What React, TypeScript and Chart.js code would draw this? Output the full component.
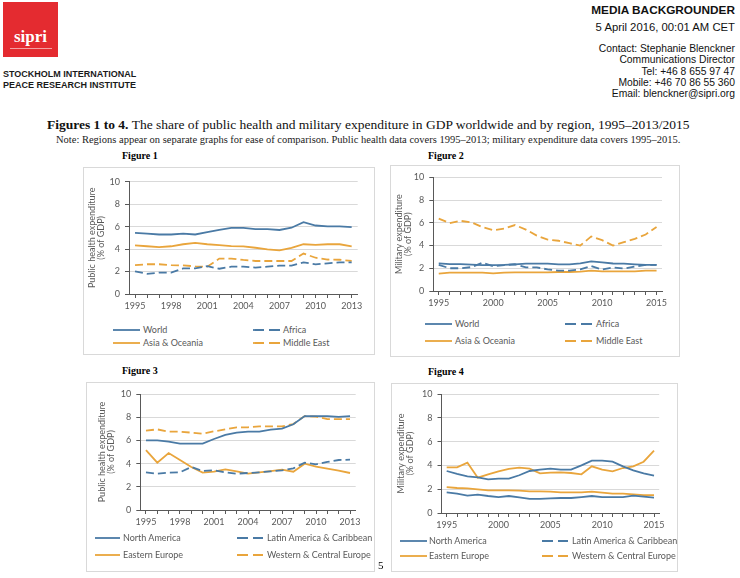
import React, { useEffect, useRef } from 'react';
import { Chart, registerables } from 'chart.js';
Chart.register(...registerables);

// ---------- data ----------
const healthYears = ['1995','1996','1997','1998','1999','2000','2001','2002','2003','2004','2005','2006','2007','2008','2009','2010','2011','2012','2013'];
const militaryYears = ['1995','1996','1997','1998','1999','2000','2001','2002','2003','2004','2005','2006','2007','2008','2009','2010','2011','2012','2013','2014','2015'];
const yTicks = [0, 2, 4, 6, 8, 10];

// Figure 1: public health expenditure, % of GDP
const healthWorld = [5.45,5.38,5.3,5.3,5.38,5.3,5.5,5.7,5.88,5.88,5.78,5.78,5.7,5.9,6.4,6.1,6.03,6.03,5.95];
const healthAfrica = [2.02,1.8,1.9,1.9,2.28,2.28,2.48,2.25,2.43,2.43,2.35,2.43,2.52,2.52,2.82,2.64,2.73,2.82,2.82];
const healthAsiaOceania = [4.33,4.25,4.17,4.25,4.43,4.55,4.43,4.35,4.27,4.24,4.12,3.98,3.88,4.1,4.43,4.38,4.43,4.43,4.24];
const healthMiddleEast = [2.57,2.65,2.65,2.57,2.55,2.46,2.43,3.15,3.15,3.03,2.94,2.94,2.94,2.94,3.6,3.23,3.07,3.05,2.95];

// Figure 2: military expenditure, % of GDP
const milWorld = [2.43,2.37,2.37,2.32,2.27,2.27,2.29,2.35,2.4,2.4,2.4,2.35,2.35,2.43,2.6,2.52,2.42,2.4,2.35,2.29,2.29];
const milAfrica = [2.3,2.0,2.0,2.1,2.48,2.18,2.28,2.35,2.08,2.08,1.9,1.8,1.8,1.9,2.2,1.88,2.08,1.97,2.15,2.29,2.29];
const milAsiaOceania = [1.53,1.61,1.61,1.61,1.61,1.55,1.61,1.64,1.64,1.64,1.64,1.67,1.67,1.7,1.79,1.72,1.72,1.72,1.72,1.79,1.79];
const milMiddleEast = [6.37,5.97,6.17,6.04,5.62,5.35,5.48,5.8,5.4,4.87,4.52,4.42,4.2,4.0,4.8,4.47,4.0,4.3,4.58,4.97,5.62];

// Figure 3: public health expenditure by region
const healthNorthAmerica = [6.0,6.0,5.89,5.72,5.72,5.72,6.12,6.47,6.67,6.75,6.75,6.93,7.01,7.39,8.1,8.1,8.1,8.02,8.1];
const healthLatinAmerica = [3.25,3.13,3.22,3.25,3.71,3.36,3.42,3.25,3.13,3.19,3.25,3.33,3.42,3.59,4.08,3.94,4.14,4.31,4.34];
const healthEasternEurope = [5.17,4.08,4.91,4.31,3.71,3.22,3.3,3.5,3.33,3.13,3.25,3.36,3.48,3.3,3.99,3.74,3.56,3.39,3.19];
const healthWesternEurope = [6.84,6.95,6.75,6.75,6.67,6.58,6.78,6.95,7.13,7.13,7.21,7.21,7.21,7.41,8.1,8.05,7.84,7.84,7.84];

// Figure 4: military expenditure by region
const milNorthAmerica = [3.53,3.28,3.08,3.0,2.83,2.89,2.89,3.17,3.53,3.64,3.73,3.64,3.64,4.0,4.4,4.4,4.31,3.92,3.59,3.33,3.14];
const milLatinAmerica = [1.74,1.62,1.46,1.54,1.43,1.34,1.43,1.32,1.18,1.18,1.23,1.26,1.26,1.34,1.43,1.34,1.34,1.34,1.46,1.37,1.29];
const milEasternEurope = [3.84,3.84,4.23,2.97,3.25,3.5,3.7,3.81,3.73,3.33,3.39,3.42,3.36,3.25,3.92,3.64,3.5,3.78,3.92,4.31,5.24];
const milWesternEurope = [2.18,2.1,2.07,1.99,1.9,1.9,1.9,1.88,1.82,1.82,1.79,1.74,1.74,1.74,1.79,1.71,1.62,1.62,1.57,1.51,1.51];

// ---------- style ----------
const BLUE = '#4a7aa5';
const ORANGE = '#e9a53c';
const AXIS = '#595959';
const GRID = '#d9d9d9';
const TXT = '#595959';
const SANS = 'Lato, "Liberation Sans", sans-serif';
const SERIF = '"Liberation Serif", "DejaVu Serif", serif';

type Series = { label: string; data: number[]; color: string; dashed: boolean; legendDashed: boolean };
type Rect = { l: number; t: number; r: number; b: number };
type LegendLayout = { rows: number[]; cols: { x1: number; x2: number; tx: number }[] };

type FigProps = {
  box: Rect;
  plot: Rect;
  labels: string[];
  labelStep: number;
  yTitle: string[];
  titleOffset: number;
  series: Series[];
  legend: LegendLayout;
};

function Figure({ box, plot, labels, labelStep, yTitle, titleOffset, series, legend }: FigProps) {
  const ref = useRef<HTMLCanvasElement>(null);
  const W = box.r - box.l;
  const xAxisH = 26;
  const H = Math.round(plot.b - box.t + xAxisH);
  useEffect(() => {
    const chart = new Chart(ref.current as HTMLCanvasElement, {
      type: 'line',
      data: {
        labels,
        datasets: series.map((s) => ({
          label: s.label,
          data: s.data,
          borderColor: s.color,
          backgroundColor: s.color,
          borderWidth: 1.8,
          borderDash: s.dashed ? [8, 4] : [],
          pointRadius: 0,
          pointHoverRadius: 0,
          tension: 0,
          fill: false,
        })),
      },
      options: {
        animation: false,
        responsive: false,
        maintainAspectRatio: false,
        events: [],
        layout: { padding: { top: plot.t - box.t, right: box.r - plot.r, left: 0, bottom: 0 } },
        plugins: { legend: { display: false }, tooltip: { enabled: false }, title: { display: false } },
        scales: {
          x: {
            type: 'category',
            offset: true,
            afterFit: (s: any) => { s.height = xAxisH; },
            grid: { drawOnChartArea: false, tickLength: 4, color: AXIS, offset: false },
            border: { color: AXIS, width: 1 },
            ticks: {
              autoSkip: false,
              maxRotation: 0,
              minRotation: 0,
              padding: 3,
              color: TXT,
              font: { family: SANS, size: 9 },
              callback: (_v: any, i: number) => (i % labelStep === 0 ? labels[i] : ''),
            },
          },
          y: {
            min: 0,
            max: 10,
            afterFit: (s: any) => { s.width = plot.l - box.l; },
            afterBuildTicks: (s: any) => { s.ticks = yTicks.map((v) => ({ value: v })); },
            ticks: { padding: 5, color: TXT, font: { family: SANS, size: 9 } },
            grid: {
              color: (c: any) => (c.tick && c.tick.value === 0 ? AXIS : GRID),
              tickColor: AXIS,
              tickLength: 4,
            },
            border: { color: AXIS, width: 1 },
            title: {
              display: true,
              text: yTitle,
              color: TXT,
              font: { family: SANS, size: 9, lineHeight: 1.0 },
              padding: { top: titleOffset - 4.5, bottom: 0 },
            },
          },
        },
      },
    } as any);
    return () => chart.destroy();
  }, []);

  return (
    <>
      <div
        style={{
          position: 'absolute',
          left: box.l,
          top: box.t,
          width: W,
          height: box.b - box.t,
          border: '1px solid #d9d9d9',
          boxSizing: 'border-box',
        }}
      />
      <canvas
        ref={ref}
        width={W}
        height={H}
        style={{ position: 'absolute', left: box.l, top: box.t, width: W, height: H }}
      />
      {series.map((s, i) => {
        const col = legend.cols[i % 2];
        const y = legend.rows[Math.floor(i / 2)];
        return (
          <React.Fragment key={s.label}>
            <svg
              width={col.x2 - col.x1}
              height={6}
              style={{ position: 'absolute', left: col.x1, top: y - 3, overflow: 'visible' }}
            >
              <line
                x1={0}
                y1={3}
                x2={col.x2 - col.x1}
                y2={3}
                stroke={s.color}
                strokeWidth={1.8}
                strokeDasharray={s.legendDashed ? '11 5' : undefined}
              />
            </svg>
            <div
              style={{
                position: 'absolute',
                left: col.tx,
                top: y - 7,
                height: 14,
                lineHeight: '14px',
                fontFamily: SANS,
                fontSize: 9,
                color: TXT,
                whiteSpace: 'nowrap',
              }}
            >
              {s.label}
            </div>
          </React.Fragment>
        );
      })}
    </>
  );
}

const abs = (left: number, top: number, extra: React.CSSProperties = {}): React.CSSProperties => ({
  position: 'absolute',
  left,
  top,
  whiteSpace: 'nowrap',
  ...extra,
});

export default function App() {
  const fig1Series: Series[] = [
    { label: 'World', data: healthWorld, color: BLUE, dashed: false, legendDashed: false },
    { label: 'Africa', data: healthAfrica, color: BLUE, dashed: true, legendDashed: true },
    { label: 'Asia & Oceania', data: healthAsiaOceania, color: ORANGE, dashed: false, legendDashed: false },
    { label: 'Middle East', data: healthMiddleEast, color: ORANGE, dashed: true, legendDashed: true },
  ];
  const fig2Series: Series[] = [
    { label: 'World', data: milWorld, color: BLUE, dashed: false, legendDashed: false },
    { label: 'Africa', data: milAfrica, color: BLUE, dashed: true, legendDashed: true },
    { label: 'Asia & Oceania', data: milAsiaOceania, color: ORANGE, dashed: false, legendDashed: false },
    { label: 'Middle East', data: milMiddleEast, color: ORANGE, dashed: true, legendDashed: true },
  ];
  const fig3Series: Series[] = [
    { label: 'North America', data: healthNorthAmerica, color: BLUE, dashed: false, legendDashed: false },
    { label: 'Latin America & Caribbean', data: healthLatinAmerica, color: BLUE, dashed: true, legendDashed: true },
    { label: 'Eastern Europe', data: healthEasternEurope, color: ORANGE, dashed: false, legendDashed: false },
    { label: 'Western & Central Europe', data: healthWesternEurope, color: ORANGE, dashed: true, legendDashed: true },
  ];
  const fig4Series: Series[] = [
    { label: 'North America', data: milNorthAmerica, color: BLUE, dashed: false, legendDashed: false },
    { label: 'Latin America & Caribbean', data: milLatinAmerica, color: BLUE, dashed: false, legendDashed: true },
    { label: 'Eastern Europe', data: milEasternEurope, color: ORANGE, dashed: false, legendDashed: false },
    { label: 'Western & Central Europe', data: milWesternEurope, color: ORANGE, dashed: false, legendDashed: true },
  ];

  const healthTitle = ['Public health expenditure', '(% of GDP)'];
  const milTitle = ['Military expenditure', '(% of GDP)'];
  const hdr: React.CSSProperties = { fontFamily: '"Liberation Sans", Arial, sans-serif', color: '#111' };

  return (
    <div
      style={{
        position: 'absolute',
        left: 0,
        top: 0,
        width: 740,
        height: 578,
        overflow: 'hidden',
        background: '#fff',
      }}
    >
      {/* logo */}
      <div style={{ position: 'absolute', left: 3, top: 2, width: 55, height: 55, background: '#e42b30' }}>
        <div
          style={{
            position: 'absolute',
            left: 0,
            width: 55,
            top: 25,
            textAlign: 'center',
            color: '#fff',
            fontFamily: SERIF,
            fontWeight: 'bold',
            fontSize: 17,
            lineHeight: '20px',
          }}
        >
          sipri
        </div>
        <div style={{ position: 'absolute', left: 7, top: 46, width: 42, height: 1, background: 'rgba(255,255,255,0.55)' }} />
      </div>
      <div style={abs(3, 69, { ...hdr, fontWeight: 'bold', fontSize: 9, lineHeight: '11px', color: '#1a1a1a' })}>
        STOCKHOLM INTERNATIONAL
        <br />
        PEACE RESEARCH INSTITUTE
      </div>

      {/* right header */}
      <div style={{ position: 'absolute', right: 5, top: 2, textAlign: 'right', ...hdr }}>
        <div style={{ fontWeight: 'bold', fontSize: 11.8, lineHeight: '16px' }}>MEDIA BACKGROUNDER</div>
        <div style={{ fontSize: 11.3, lineHeight: '15px', marginTop: 2 }}>5 April 2016, 00:01 AM CET</div>
        <div style={{ fontSize: 10.3, lineHeight: '11.3px', marginTop: 8 }}>
          Contact: Stephanie Blenckner
          <br />
          Communications Director
          <br />
          Tel: +46 8 655 97 47
          <br />
          Mobile: +46 70 86 55 360
          <br />
          Email: blenckner@sipri.org
        </div>
      </div>

      {/* title */}
      <div style={abs(47, 116, { fontFamily: SERIF, fontSize: 13.5, lineHeight: '17px', color: '#111' })}>
        <b>Figures 1 to 4.</b> The share of public health and military expenditure in GDP worldwide and by region, 1995–2013/2015
      </div>
      <div style={abs(56, 133, { fontFamily: SERIF, fontSize: 10.5, lineHeight: '13px', color: '#222' })}>
        Note: Regions appear on separate graphs for ease of comparison. Public health data covers 1995–2013; military expenditure data covers 1995–2015.
      </div>

      {/* figure labels */}
      <div style={abs(122, 150, { fontFamily: SERIF, fontWeight: 'bold', fontSize: 10, lineHeight: '12px' })}>Figure 1</div>
      <div style={abs(428, 150, { fontFamily: SERIF, fontWeight: 'bold', fontSize: 10, lineHeight: '12px' })}>Figure 2</div>
      <div style={abs(122, 365, { fontFamily: SERIF, fontWeight: 'bold', fontSize: 10, lineHeight: '12px' })}>Figure 3</div>
      <div style={abs(428, 366, { fontFamily: SERIF, fontWeight: 'bold', fontSize: 10, lineHeight: '12px' })}>Figure 4</div>

      <Figure
        box={{ l: 83, t: 167, r: 375, b: 355 }}
        plot={{ l: 129, t: 181.7, r: 357.7, b: 294 }}
        labels={healthYears}
        labelStep={3}
        yTitle={healthTitle}
        titleOffset={9}
        series={fig1Series}
        legend={{ rows: [330, 343], cols: [{ x1: 113, x2: 140, tx: 143 }, { x1: 253, x2: 280, tx: 283 }] }}
      />
      <Figure
        box={{ l: 390, t: 165, r: 680, b: 357 }}
        plot={{ l: 433.3, t: 177.3, r: 662, b: 291 }}
        labels={militaryYears}
        labelStep={5}
        yTitle={milTitle}
        titleOffset={9}
        series={fig2Series}
        legend={{ rows: [324, 341], cols: [{ x1: 425, x2: 452, tx: 455 }, { x1: 565, x2: 592, tx: 596 }] }}
      />
      <Figure
        box={{ l: 86, t: 382, r: 375, b: 572 }}
        plot={{ l: 140.3, t: 394, r: 355.7, b: 510 }}
        labels={healthYears}
        labelStep={3}
        yTitle={healthTitle}
        titleOffset={16}
        series={fig3Series}
        legend={{ rows: [538, 555], cols: [{ x1: 95, x2: 120, tx: 123 }, { x1: 237, x2: 263, tx: 267 }] }}
      />
      <Figure
        box={{ l: 391, t: 383, r: 678, b: 572 }}
        plot={{ l: 441.5, t: 394, r: 659.2, b: 513 }}
        labels={militaryYears}
        labelStep={5}
        yTitle={milTitle}
        titleOffset={10}
        series={fig4Series}
        legend={{ rows: [541, 556], cols: [{ x1: 400, x2: 427, tx: 429 }, { x1: 542, x2: 568, tx: 572 }] }}
      />

      <div style={abs(378, 558, { fontFamily: SERIF, fontSize: 11, lineHeight: '14px' })}>5</div>
    </div>
  );
}
